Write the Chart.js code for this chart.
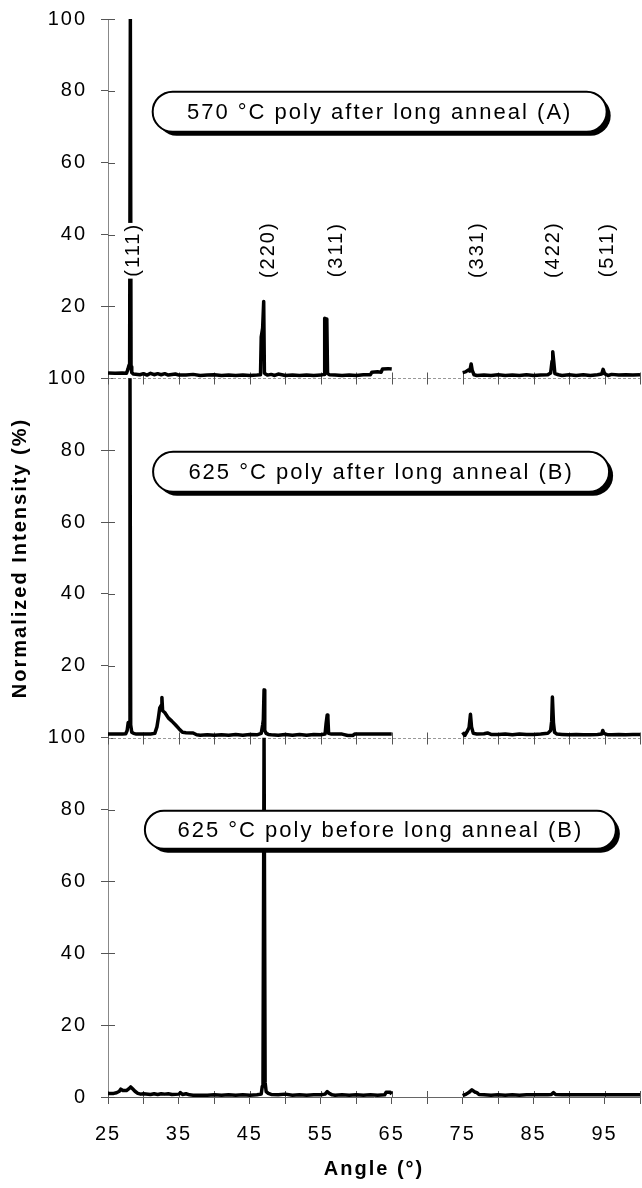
<!DOCTYPE html>
<html lang="en">
<head>
  <meta charset="UTF-8" />
  <title>XRD patterns of poly-Si films</title>
  <script src="https://cdn.jsdelivr.net/npm/chart.js"></script>
  <style>
    html, body { margin: 0; padding: 0; background: #fff; }
    #wrap { width: 642px; height: 1188px; }
  </style>
</head>
<body>
  <div id="wrap"><canvas id="xrdChart"></canvas></div>

  <script>
    // Panel A: 570 °C poly after long anneal
    const angleA = [25, 26, 27, 27.6, 27.8, 27.95, 28.05, 28.15, 28.25, 28.35, 28.6, 29.5, 30, 30.5, 31, 31.5, 32, 32.5, 33, 33.5, 34.5, 35, 36, 37, 38, 39, 40, 41, 42, 43, 44, 45, 46, 46.5, 46.6, 46.8, 46.95, 47.05, 47.2, 47.5, 48, 48.5, 49, 50, 51, 52, 53, 54, 55, 55.5, 55.55, 55.75, 55.85, 55.95, 56.2, 57, 58, 59, 60, 61, 62, 62.2, 63, 63.5, 63.7, 64.5, 65, 70, 75, 75.4, 75.8, 76.0, 76.2, 76.35, 76.6, 77, 78, 79, 80, 81, 82, 83, 84, 85, 86, 87, 87.4, 87.6, 87.7, 87.85, 88, 88.5, 89, 90, 91, 92, 93, 94, 94.6, 94.8, 95, 95.5, 96, 97, 98, 99, 100];
    const intensityA = [1.5, 1.4, 1.5, 1.4, 2.5, 3.6, 3.2, 100, 3.2, 1.6, 1.2, 1.0, 1.3, 0.9, 1.4, 1.0, 1.3, 1.0, 1.3, 0.9, 1.2, 0.9, 0.9, 1.1, 0.8, 0.9, 1.0, 0.8, 0.9, 0.8, 0.9, 0.8, 0.9, 1.0, 11.5, 14, 21.4, 1.5, 1.2, 0.9, 1.1, 0.8, 1.2, 0.8, 0.9, 0.8, 0.9, 0.8, 0.9, 1.1, 16.7, 16.5, 16.0, 1.4, 1.0, 0.9, 0.8, 0.9, 0.8, 1.0, 1.0, 1.7, 1.8, 1.7, 2.6, 2.7, 2.6, null, 1.6, 1.8, 2.3, 2.0, 4.0, 2.2, 1.0, 0.8, 0.9, 0.8, 1.0, 0.8, 0.9, 0.8, 1.0, 0.8, 0.9, 1.0, 1.5, 4.8, 7.4, 4.5, 1.3, 1.0, 0.8, 1.0, 0.8, 1.0, 0.8, 1.0, 1.2, 2.5, 1.3, 0.8, 1.1, 0.9, 1.0, 0.9, 1.0];

    // Panel B: 625 °C poly after long anneal
    const angleB = [25, 26, 27, 27.5, 27.7, 27.85, 28.0, 28.1, 28.2, 28.35, 28.6, 29, 30, 31, 31.6, 31.9, 32.1, 32.3, 32.5, 32.6, 32.7, 33.0, 33.5, 34.0, 34.5, 35.0, 35.5, 36, 37, 37.5, 38, 39, 40, 41, 42, 43, 44, 45, 46, 46.6, 46.8, 46.9, 47.0, 47.1, 47.3, 47.6, 48, 49, 50, 51, 52, 53, 54, 55, 55.6, 55.75, 55.9, 56.0, 56.1, 56.5, 57, 58, 58.8, 59.5, 59.8, 61, 62, 63, 64, 65, 70, 75, 75.3, 75.6, 75.9, 76.1, 76.25, 76.5, 77, 78, 78.5, 79, 80, 81, 82, 83, 84, 85, 86, 87, 87.4, 87.55, 87.65, 87.8, 87.95, 88.3, 89, 90, 91, 92, 93, 94, 94.6, 94.75, 94.9, 95.5, 96, 97, 98, 99, 100];
    const intensityB = [1.0, 1.0, 1.0, 1.1, 2.0, 4.2, 3.5, 100, 3.5, 1.5, 1.2, 1.0, 1.0, 1.0, 1.2, 3.0, 5.5, 8.3, 9.0, 11.2, 7.5, 7.0, 5.5, 4.6, 3.6, 2.5, 1.5, 1.4, 1.3, 0.8, 0.7, 0.8, 0.7, 0.8, 0.7, 0.9, 0.7, 0.9, 0.8, 1.2, 3.5, 5.0, 13.3, 2.0, 1.2, 0.9, 0.8, 0.7, 0.9, 0.7, 0.9, 0.7, 0.9, 0.8, 1.0, 4.0, 6.3, 5.5, 1.2, 1.0, 1.0, 1.0, 0.6, 0.6, 1.0, 1.0, 1.0, 1.0, 1.0, 1.0, null, 1.5, 0.6, 1.6, 2.8, 6.5, 3.0, 1.2, 1.0, 1.1, 1.3, 0.9, 0.9, 1.0, 0.8, 1.0, 0.9, 0.9, 1.0, 1.2, 2.0, 4.6, 11.3, 4.2, 1.5, 1.0, 0.9, 0.8, 0.9, 0.8, 0.8, 0.9, 1.0, 2.0, 1.2, 0.8, 0.8, 0.9, 0.8, 0.9, 0.9];

    // Panel C: 625 °C poly before long anneal
    const angleC = [25, 25.8, 26.2, 26.6, 26.8, 27.1, 27.6, 28.0, 28.2, 28.5, 28.8, 29.2, 29.6, 30, 31, 31.5, 32, 32.5, 33, 33.5, 34, 35, 35.2, 35.5, 36, 36.5, 37, 38, 39, 40, 41, 42, 43, 44, 45, 46, 46.6, 46.75, 46.85, 47.0, 47.15, 47.3, 47.6, 48, 49, 50, 51, 52, 53, 54, 55, 55.6, 55.9, 56.2, 56.6, 57, 58, 59, 60, 61, 62, 63, 64, 64.2, 64.8, 65, 70, 75, 75.5, 75.9, 76.3, 76.7, 77, 77.3, 78, 79, 80, 81, 82, 83, 84, 85, 86, 87, 87.5, 87.8, 88.1, 89, 90, 91, 92, 93, 94, 95, 96, 97, 98, 99, 100];
    const intensityC = [1.0, 1.0, 1.2, 1.6, 2.2, 1.8, 1.8, 2.4, 2.8, 2.2, 1.6, 1.0, 0.8, 0.9, 0.7, 0.9, 0.7, 0.9, 0.8, 0.9, 0.7, 0.8, 1.2, 0.7, 0.9, 0.6, 0.5, 0.5, 0.5, 0.6, 0.5, 0.6, 0.5, 0.6, 0.5, 0.6, 0.8, 3.0, 4.2, 100, 4.0, 1.5, 1.0, 0.7, 0.6, 0.8, 0.5, 0.6, 0.5, 0.6, 0.6, 0.8, 1.5, 1.0, 0.6, 0.5, 0.6, 0.5, 0.6, 0.5, 0.6, 0.5, 0.6, 1.3, 1.3, 0.8, null, 0.4, 0.8, 1.3, 2.0, 1.4, 1.2, 0.7, 0.6, 0.5, 0.6, 0.5, 0.6, 0.5, 0.6, 0.6, 0.6, 0.6, 0.7, 1.2, 0.7, 0.6, 0.6, 0.6, 0.6, 0.6, 0.6, 0.6, 0.6, 0.6, 0.6, 0.6, 0.6];

    const panelTitles = ["570 °C poly after long anneal (A)", "625 °C poly after long anneal (B)", "625 °C poly before long anneal (B)"];
    const peakLabels = ["(111)", "(220)", "(311)", "(331)", "(422)", "(511)"];
    const peakLabelAngles = [28.5, 47.5, 57.0, 77.0, 87.7, 95.3];

    const xTicks = [25, 30, 35, 40, 45, 50, 55, 60, 65, 70, 75, 80, 85, 90, 95, 100];
    const xLabelValues = [25, 35, 45, 55, 65, 75, 85, 95];
    const yLabelValues = [0, 20, 40, 60, 80, 100];

    const FONT = "'Liberation Sans', Arial, Helvetica, sans-serif";
    const panelAxes = ["yA", "yB", "yC"];

    // box placement (data units for center, pixels for size)
    const boxLayout = [
      { axis: "yA", cx: 63.3, cy: 74.2, w: 454, h: 40 },
      { axis: "yB", cx: 63.5, cy: 74.0, w: 456, h: 40 },
      { axis: "yC", cx: 63.4, cy: 74.4, w: 471, h: 38 }
    ];

    function points(xs, ys) {
      return xs.map((x, i) => ({ x: x, y: ys[i] }));
    }

    const decor = {
      id: "decor",
      beforeLayout(chart) { chart.ctx.letterSpacing = "2px"; },
      beforeDraw(chart) { chart.ctx.letterSpacing = "2px"; },

      beforeDatasetsDraw(chart) {
        const { ctx, chartArea, scales } = chart;
        const x = scales.x;
        ctx.save();
        ctx.lineWidth = 1;

        // inner half of the y tick marks
        ctx.strokeStyle = "#555";
        panelAxes.forEach(id => {
          const s = scales[id];
          s.ticks.forEach(t => {
            const py = Math.round(s.getPixelForValue(t.value)) + 0.5;
            ctx.beginPath();
            ctx.moveTo(chartArea.left, py);
            ctx.lineTo(chartArea.left + 7, py);
            ctx.stroke();
          });
        });

        // baseline of the upper panels with their own x ticks
        ["yA", "yB"].forEach(id => {
          const py = Math.round(scales[id].bottom) + 0.5;
          ctx.strokeStyle = "#999";
          ctx.setLineDash([3, 2]);
          ctx.beginPath();
          ctx.moveTo(chartArea.left, py);
          ctx.lineTo(chartArea.right, py);
          ctx.stroke();
          ctx.setLineDash([]);
          ctx.strokeStyle = "#555";
          x.ticks.forEach(t => {
            const px = Math.round(x.getPixelForValue(t.value)) + 0.5;
            ctx.beginPath();
            ctx.moveTo(px, py - 6);
            ctx.lineTo(px, py + 6);
            ctx.stroke();
          });
        });

        // inner half of bottom x ticks
        x.ticks.forEach(t => {
          const px = Math.round(x.getPixelForValue(t.value)) + 0.5;
          ctx.beginPath();
          ctx.moveTo(px, chartArea.bottom - 6);
          ctx.lineTo(px, chartArea.bottom);
          ctx.stroke();
        });
        ctx.restore();
      },

      afterDatasetsDraw(chart) {
        const { ctx, scales } = chart;
        const x = scales.x;
        ctx.save();
        ctx.letterSpacing = "2px";

        // hkl labels in the top panel
        ctx.font = "20px " + FONT;
        ctx.textAlign = "center";
        ctx.textBaseline = "middle";
        peakLabels.forEach((txt, i) => {
          const px = x.getPixelForValue(peakLabelAngles[i]);
          const py = scales.yA.getPixelForValue(35.5);
          ctx.save();
          ctx.translate(px, py);
          ctx.rotate(-Math.PI / 2);
          const w = ctx.measureText(txt).width;
          ctx.fillStyle = "#fff";
          ctx.fillRect(-w / 2 - 1, -11, w + 2, 22);
          ctx.fillStyle = "#000";
          ctx.fillText(txt, 1, 1);
          ctx.restore();
        });

        // rounded caption boxes with drop shadow
        ctx.font = "22px " + FONT;
        boxLayout.forEach((b, i) => {
          const cx = x.getPixelForValue(b.cx);
          const cy = scales[b.axis].getPixelForValue(b.cy);
          const left = cx - b.w / 2, top = cy - b.h / 2;
          const r = b.h / 2;
          ctx.fillStyle = "#000";
          ctx.beginPath();
          ctx.roundRect(left + 4, top + 4, b.w, b.h, r);
          ctx.fill();
          ctx.fillStyle = "#fff";
          ctx.beginPath();
          ctx.roundRect(left, top, b.w, b.h, r);
          ctx.fill();
          ctx.lineWidth = 2;
          ctx.strokeStyle = "#000";
          ctx.stroke();
          ctx.fillStyle = "#000";
          ctx.fillText(panelTitles[i], cx, cy + 1);
        });
        ctx.restore();
      }
    };

    function yAxis(weight, showZero, title) {
      return {
        type: "linear",
        position: "left",
        stack: "panels",
        stackWeight: 1,
        weight: weight,
        min: 0,
        max: 100,
        ticks: {
          stepSize: 10,
          padding: 14,
          color: "#000",
          font: { size: 20, family: FONT },
          callback: v => (yLabelValues.includes(v) && (showZero || v !== 0)) ? String(v) : ""
        },
        grid: { drawOnChartArea: false, tickLength: 7, color: "#555" },
        border: { color: "#888", width: 1, dash: [2, 2] },
        title: {
          display: !!title,
          text: title || "",
          color: "#000",
          font: { size: 20, weight: "bold", family: FONT },
          padding: { top: 8, bottom: 0 }
        },
        afterFit: s => {
          s.width = 108;
          s.paddingTop = 0;
          s.paddingBottom = 0;
        }
      };
    }

    new Chart(document.getElementById("xrdChart"), {
      type: "line",
      data: {
        datasets: [
          { label: "A", data: points(angleA, intensityA), yAxisID: "yA" },
          { label: "B", data: points(angleB, intensityB), yAxisID: "yB" },
          { label: "C", data: points(angleC, intensityC), yAxisID: "yC" }
        ].map(d => Object.assign(d, {
          borderColor: "#000",
          borderWidth: 3.5,
          pointRadius: 0,
          tension: 0,
          spanGaps: false,
          borderJoinStyle: "round"
        }))
      },
      options: {
        responsive: true,
        maintainAspectRatio: false,
        animation: false,
        layout: { padding: { top: 19, right: 2, bottom: 0, left: 0 } },
        plugins: { legend: { display: false }, tooltip: { enabled: false } },
        scales: {
          x: {
            type: "linear",
            min: 25,
            max: 100,
            afterBuildTicks: s => { s.ticks = xTicks.map(v => ({ value: v })); },
            ticks: {
              autoSkip: false,
              maxRotation: 0,
              padding: 18,
              color: "#000",
              font: { size: 20, family: FONT },
              callback: v => xLabelValues.includes(v) ? String(v) : ""
            },
            grid: { drawOnChartArea: false, tickLength: 7, color: "#555" },
            border: { color: "#666", width: 1 },
            title: {
              display: true,
              text: "Angle (°)",
              color: "#000",
              font: { size: 20, weight: "bold", family: FONT },
              padding: { top: 0, bottom: 7 }
            },
            afterFit: s => {
              s.height = 91;
              s.paddingLeft = 0;
              s.paddingRight = 0;
            }
          },
          yC: yAxis(1, true, null),
          yB: yAxis(2, false, "Normalized Intensity (%)"),
          yA: yAxis(3, false, null)
        }
      },
      plugins: [decor]
    });
  </script>
</body>
</html>
